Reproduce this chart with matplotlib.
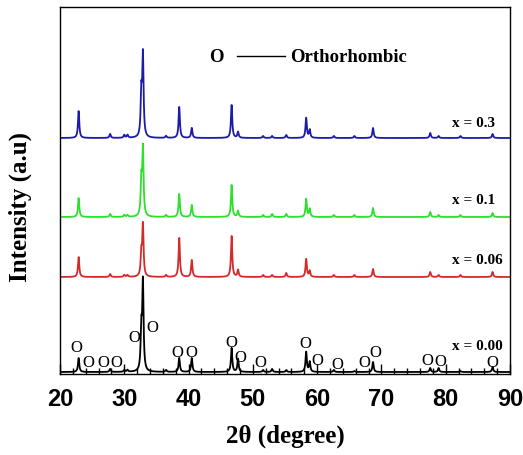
import numpy as np
import matplotlib.pyplot as plt

# peak positions (2theta) and heights
peak_pos = [22.9, 27.8, 30.0, 30.5, 32.65, 32.9, 36.5, 38.55, 40.5, 46.7, 47.7,
            51.6, 53.0, 55.2, 58.3, 58.85, 62.6, 65.8, 68.7, 77.6, 78.9, 82.3, 87.3]
h_000 = [14, 3, 2, 2, 40, 88, 2, 14, 14, 24, 13, 2, 3, 2, 20, 10, 2, 1, 10, 4, 4, 1, 5]
h_006 = [20, 3, 2, 2, 22, 51, 2, 39, 17, 41, 7, 2, 2, 4, 18, 6, 2, 2, 8, 5, 2, 2, 5]
h_010 = [19, 3, 2, 2, 34, 67, 2, 23, 12, 32, 6, 2, 3, 3, 18, 8, 2, 2, 9, 5, 2, 2, 4]
h_030 = [27, 4, 3, 3, 42, 81, 2, 31, 10, 33, 6, 2, 2, 3, 20, 8, 2, 2, 10, 5, 2, 2, 4]

samples = ['x = 0.00', 'x = 0.06', 'x = 0.1', 'x = 0.3']
heights = [h_000, h_006, h_010, h_030]
offsets = [2, 97, 157, 236]
colors = ['black', '#d42a2a', '#2ee02e', '#1c1ca8']
label_y = [28, 114, 174, 251]

# orthorhombic markers on the x = 0.00 pattern
o_x = [22.6, 24.4, 26.8, 28.8, 31.5, 34.3, 38.2, 40.5, 46.6, 48.1, 51.2, 58.1,
       60.0, 63.2, 67.3, 69.1, 77.1, 79.2, 87.3]
o_y = [26, 11, 11, 11, 36, 46, 21, 21, 31, 16, 11, 30, 13, 9, 11, 21, 13, 12, 11]

serif = 'Liberation Serif'
tt = np.linspace(20, 90, 4001)


def pattern(hs, base):
    y = np.full_like(tt, float(base))
    g = 0.12
    for p, h in zip(peak_pos, hs):
        y += h * g**2 / ((tt - p)**2 + g**2)
    return y


fig = plt.figure(figsize=(5.23, 4.55), dpi=100)
ax = fig.add_axes([0.1147, 0.178, 0.8603, 0.8066])

for s, hs, off, c, ly in zip(samples, heights, offsets, colors, label_y):
    ax.plot(tt, pattern(hs, off), color=c, lw=1.3)
    ax.text(81, ly, s, family=serif, fontweight='bold', fontsize=11,
            ha='left', va='center')

for x, y in zip(o_x, o_y):
    ax.text(x, y, 'O', family=serif, fontsize=12, ha='center', va='center')

# legend-like note
ax.text(44.4, 317, 'O', family=serif, fontweight='bold', fontsize=13.5,
        ha='center', va='center')
ax.plot([47.5, 55.0], [318, 318], color='black', lw=1.0)
ax.text(55.8, 317, 'Orthorhombic', family=serif, fontweight='bold',
        fontsize=13.5, ha='left', va='center')

ax.set_xlim(20, 90)
ax.set_ylim(0, 367)
ax.set_xticks(range(20, 91, 10))
ax.set_xticks(range(20, 91, 2), minor=True)
ax.set_yticks([])
ax.tick_params(axis='x', which='major', direction='in', length=7, width=1,
               labelsize=17, pad=10)
ax.tick_params(axis='x', which='minor', direction='in', length=4, width=1)
for lab in ax.get_xticklabels():
    lab.set_family('Liberation Sans')
    lab.set_fontweight('bold')
for sp in ax.spines.values():
    sp.set_linewidth(1.0)

ax.set_xlabel('2θ (degree)', family=serif, fontweight='bold', fontsize=18,
              labelpad=10)
ax.set_ylabel('Intensity (a.u)', family=serif, fontweight='bold', fontsize=18)
ax.yaxis.set_label_coords(-0.063, 0.455)

fig.savefig('out.png', dpi=100)
